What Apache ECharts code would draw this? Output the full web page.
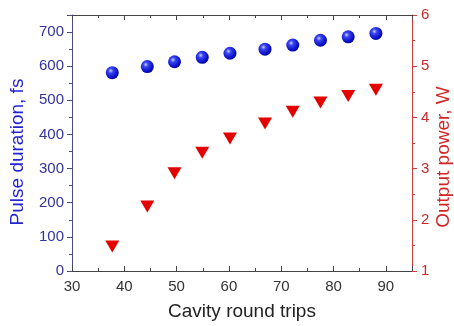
<!DOCTYPE html>
<html><head><meta charset="utf-8">
<script src="https://cdn.jsdelivr.net/npm/echarts@6/dist/echarts.min.js"></script>
<style>html,body{margin:0;padding:0;background:#fff}#c{width:454px;height:326px}</style>
</head><body><div id="c"></div>
<script>
const roundTrips = [37.7, 44.4, 49.6, 54.9, 60.2, 66.9, 72.2, 77.5, 82.8, 88.1];
const pulseDuration = [581, 599, 613, 626, 638, 650, 662, 676, 686, 696];
const outputPower = [1.48, 2.26, 2.91, 3.31, 3.59, 3.88, 4.11, 4.29, 4.42, 4.54];
const xTicks = [30, 40, 50, 60, 70, 80, 90];
const leftTicks = [0, 100, 200, 300, 400, 500, 600, 700];
const rightTicks = [1, 2, 3, 4, 5, 6];

const FONT = 'Liberation Sans, Arial, sans-serif';
const sphere = {type:'radial', x:0.38, y:0.35, r:0.75, colorStops:[
  {offset:0, color:'#c8d0ff'}, {offset:0.25, color:'#3a45f0'}, {offset:0.7, color:'#0a10c8'}, {offset:1, color:'#000080'}]};

const chart = echarts.init(document.getElementById('c'), null, {renderer:'canvas'});
chart.setOption({
  animation:false,
  grid:{left:72, right:42, top:15, bottom:55, outerBoundsMode:'none', containLabel:false},
  xAxis:[{
    type:'value', min:30, max:95, interval:10, position:'bottom',
    name:'Cavity round trips', nameLocation:'middle', nameGap:31,
    nameTextStyle:{fontFamily:FONT, fontSize:19, color:'#222'},
    axisLine:{show:true, onZero:false, lineStyle:{color:'#444', width:1}},
    axisTick:{show:true, inside:true, length:5, lineStyle:{color:'#444'}},
    minorTick:{show:true, splitNumber:2, length:3, lineStyle:{color:'#444'}},
    axisLabel:{fontFamily:FONT, fontSize:15, color:'#333', margin:8,
      formatter:v=> xTicks.includes(v) ? String(v) : ''},
    splitLine:{show:false}
  },{
    type:'value', min:30, max:95, interval:10, position:'top',
    axisLine:{show:true, onZero:false, lineStyle:{color:'#444', width:1}},
    axisTick:{show:true, inside:true, length:5, lineStyle:{color:'#444'}},
    minorTick:{show:true, splitNumber:2, length:3, lineStyle:{color:'#444'}},
    axisLabel:{show:false}, splitLine:{show:false}
  }],
  yAxis:[{
    type:'value', min:0, max:750, interval:100, position:'left',
    name:'Pulse duration, fs', nameLocation:'middle', nameGap:45, nameRotate:90,
    nameMoveOverlap:false,
    nameTextStyle:{fontFamily:FONT, fontSize:19, color:'#2323d0', padding:[0,18,0,0]},
    axisLine:{show:true, onZero:false, lineStyle:{color:'#4a4a90', width:1}},
    axisTick:{show:true, inside:false, length:5, lineStyle:{color:'#4a4a90'}},
    minorTick:{show:true, splitNumber:2, length:3, lineStyle:{color:'#4a4a90'}},
    axisLabel:{fontFamily:FONT, fontSize:15, color:'#33339a', margin:8,
      formatter:v=> leftTicks.includes(v) ? String(v) : ''},
    splitLine:{show:false}
  },{
    type:'value', min:1, max:6, interval:1, position:'right',
    name:'Output power, W', nameLocation:'middle', nameGap:22, nameRotate:90,
    nameMoveOverlap:false,
    nameTextStyle:{fontFamily:FONT, fontSize:19, color:'#d42424', padding:[0,28,0,0]},
    axisLine:{show:true, onZero:false, lineStyle:{color:'#d43a3a', width:1}},
    axisTick:{show:true, inside:false, length:5, lineStyle:{color:'#d43a3a'}},
    minorTick:{show:true, splitNumber:2, length:3, lineStyle:{color:'#d43a3a'}},
    axisLabel:{fontFamily:FONT, fontSize:15, color:'#c82a2a', margin:9,
      formatter:v=> rightTicks.includes(v) ? String(v) : ''},
    splitLine:{show:false}
  }],
  series:[{
    type:'scatter', xAxisIndex:0, yAxisIndex:0,
    data: roundTrips.map((x,i)=>[x, pulseDuration[i]]),
    symbol:'circle', symbolSize:13,
    itemStyle:{color:sphere, opacity:1}
  },{
    type:'scatter', xAxisIndex:0, yAxisIndex:1,
    data: roundTrips.map((x,i)=>[x, outputPower[i]]),
    symbol:'triangle', symbolRotate:180, symbolSize:[14,12],
    itemStyle:{color:'#e30000', opacity:1}
  }]
});
</script></body></html>
